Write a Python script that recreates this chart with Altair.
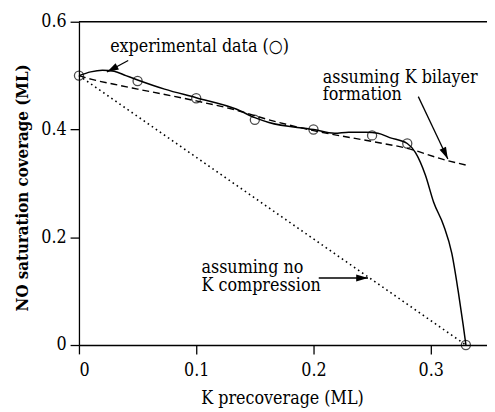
import math
import altair as alt
import pandas as pd

# ---- data ----
exp_x = [0.000, 0.050, 0.100, 0.150, 0.200, 0.250, 0.280, 0.330]
exp_y = [0.500, 0.490, 0.458, 0.418, 0.400, 0.389, 0.374, 0.000]

fit_x = [0.000, 0.010, 0.020, 0.030, 0.040, 0.050, 0.073, 0.100, 0.134, 0.150,
         0.162, 0.200, 0.218, 0.230, 0.245, 0.255, 0.265, 0.280, 0.287, 0.2955,
         0.3025, 0.311, 0.318, 0.3235, 0.3277, 0.330]
fit_y = [0.500, 0.507, 0.510, 0.508, 0.500, 0.492, 0.475, 0.459, 0.438, 0.422,
         0.413, 0.400, 0.393, 0.395, 0.395, 0.393, 0.385, 0.374, 0.357, 0.315,
         0.265, 0.222, 0.170, 0.099, 0.037, 0.000]

bil_x = [0.000, 0.011, 0.030, 0.050, 0.100, 0.134, 0.162, 0.200, 0.252, 0.280, 0.313, 0.330]
bil_y = [0.500, 0.493, 0.484, 0.475, 0.453, 0.436, 0.418, 0.398, 0.377, 0.365, 0.343, 0.334]

noc_x = [0.000, 0.330]
noc_y = [0.500, 0.000]

x_ticks = [0, 0.1, 0.2, 0.3]
y_ticks = [0, 0.2, 0.4, 0.6]

labels = [
    (["experimental data (\u25cb)"], 0.0266, 0.5433),
    (["assuming K bilayer", "formation"], 0.2079, 0.4871),
    (["assuming no", "K compression"], 0.1045, 0.1336),
]
# arrows: (x_start, y_start, x_tip, y_tip)
arrows = [
    (0.0420, 0.5281, 0.0238, 0.5067),
    (0.2894, 0.4610, 0.3146, 0.3452),
    (0.2045, 0.1244, 0.2465, 0.1244),
]

XMAX = 0.348
YMAX = 0.6
W, H = 414, 328
FONT = "DejaVu Serif Condensed"
FS = 18

xs = alt.Scale(domain=[0, XMAX], nice=False, zero=False)
ys = alt.Scale(domain=[0, YMAX], nice=False)

xax = alt.Axis(values=x_ticks, format="~g", grid=False, tickSize=9, labelPadding=22,
               labelBaseline="alphabetic", labelFont=FONT, labelFontSize=FS,
               title="K precoverage (ML)", titleFont=FONT, titleFontSize=FS,
               titleFontWeight="normal", titleX=206, titleY=59,
               titleBaseline="alphabetic", titleAlign="center",
               domainColor="black", tickColor="black", labelColor="black",
               titleColor="black", domainWidth=1.3, tickWidth=1.3)
yax = alt.Axis(values=y_ticks, format="~g", grid=False, tickSize=9, labelPadding=4,
               labelFont=FONT, labelFontSize=FS,
               title="NO saturation coverage (ML)", titleFont=FONT,
               titleFontSize=17,
               titleFontWeight="bold", titleX=-57, titleY=168, titleAngle=270,
               titleBaseline="middle", titleAlign="center",
               domainColor="black", tickColor="black", labelColor="black",
               titleColor="black", domainWidth=1.3, tickWidth=1.3)

fit_df = pd.DataFrame({"x": fit_x, "y": fit_y})
bil_df = pd.DataFrame({"x": bil_x, "y": bil_y})
noc_df = pd.DataFrame({"x": noc_x, "y": noc_y})
exp_df = pd.DataFrame({"x": exp_x, "y": exp_y})

base_fit = alt.Chart(fit_df).mark_line(color="black", strokeWidth=1.5, interpolate="monotone").encode(
    x=alt.X("x:Q", scale=xs, axis=xax),
    y=alt.Y("y:Q", scale=ys, axis=yax),
)
bil = alt.Chart(bil_df).mark_line(color="black", strokeWidth=1.4, strokeDash=[7, 4],
                                  interpolate="monotone").encode(x="x:Q", y="y:Q")
noc = alt.Chart(noc_df).mark_line(color="black", strokeWidth=1.6, strokeDash=[1.6, 3.4]).encode(
    x="x:Q", y="y:Q")
pts = alt.Chart(exp_df).mark_point(shape="circle", filled=False, color="black", size=85,
                                   strokeWidth=1.3).encode(x="x:Q", y="y:Q")
top = alt.Chart(pd.DataFrame({"y": [YMAX]})).mark_rule(color="black", strokeWidth=1.3).encode(
    y="y:Q")

layers = [top, noc, bil, base_fit, pts]

for txt, tx, ty in labels:
    layers.append(
        alt.Chart(pd.DataFrame({"a": [0]})).mark_text(
            text=txt, font=FONT, fontSize=FS, align="left", baseline="alphabetic",
            lineHeight=18, color="black"
        ).encode(x=alt.datum(tx), y=alt.datum(ty))
    )

px_x = W / XMAX
px_y = H / YMAX
for x0, y0, x1, y1 in arrows:
    dx = (x1 - x0) * px_x
    dy = -(y1 - y0) * px_y
    ang = math.degrees(math.atan2(dx, -dy)) % 360
    layers.append(
        alt.Chart(pd.DataFrame({"a": [0]})).mark_rule(color="black", strokeWidth=1.3).encode(
            x=alt.datum(x0), y=alt.datum(y0), x2=alt.datum(x1), y2=alt.datum(y1))
    )
    layers.append(
        alt.Chart(pd.DataFrame({"a": [0]})).mark_point(
            shape="M0,0L-0.3,1L0.3,1Z", filled=True, color="black", opacity=1,
            size=576, angle=ang, strokeWidth=0
        ).encode(x=alt.datum(x1), y=alt.datum(y1))
    )

chart = alt.layer(*layers).properties(
    width=W, height=H,
    autosize=alt.AutoSizeParams(type="none"),
    padding={"left": 72, "top": 11, "right": 0, "bottom": 64},
).configure_view(stroke=None)

chart.save("out.html", embed_options={"renderer": "svg", "actions": False})
